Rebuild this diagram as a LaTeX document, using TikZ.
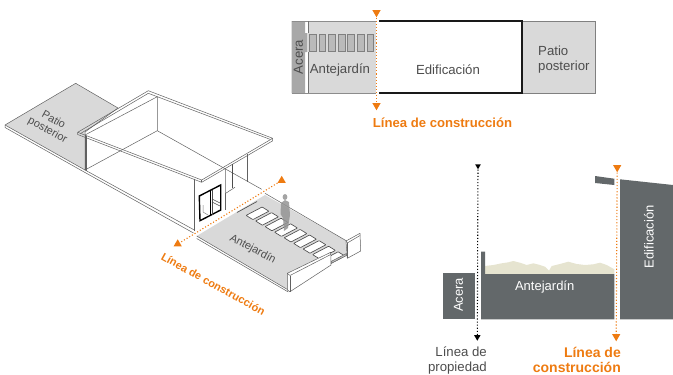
\documentclass[tikz,border=0pt]{standalone}
\usepackage{fontspec}
\setmainfont{Liberation Sans}
\usetikzlibrary{shapes.geometric}
\usetikzlibrary{math}
\definecolor{naranja}{HTML}{EE7B11}
\definecolor{gris}{HTML}{63686A}
\definecolor{grisClaro}{HTML}{D9D9D9}
\definecolor{grisMedio}{HTML}{A8A8A8}
\definecolor{pasto}{HTML}{E6E4D0}
\definecolor{texto}{HTML}{4D4D4D}
\tikzset{
  linea/.style={draw=black!62, line width=0.5pt, line join=round},
  suelo/.style={linea, fill=grisClaro},
  baldosa/.style={draw=black!70, line width=0.65pt, fill=white, line join=round},
  adoquin/.style={draw=black!50, line width=0.5pt, fill=black!27},
  lindero/.style={line width=1.1pt, dotted},
  triUp/.style={regular polygon, regular polygon sides=3, inner sep=0pt, minimum size=9.5pt},
  triDown/.style={triUp, shape border rotate=180},
  rotulo/.style={text=texto, font=\fontsize{13.2}{15}\selectfont, inner sep=0pt, align=left},
  rotuloB/.style={text=white, font=\fontsize{13}{15}\selectfont, inner sep=0pt},
  naranjaB/.style={text=naranja, font=\bfseries\fontsize{13.1}{15}\selectfont, inner sep=0pt}
}
\begin{document}
\begin{tikzpicture}[x=1pt,y=-1pt]
      \tikzmath{
        \yA = 21;
        \yB = 93;
        \ySec = 319.3;
        \xNar = 616.7;
        \xNeg = 478;
      }
      \useasboundingbox (0,0) rectangle (673,375);

      % isometrica
      \path[suelo] (75.7,83.3) -- (5,125) -- (85,170) -- (85,132) -- (118,108) -- cycle;
      \draw[linea] (5,125) -- (5,127.5) -- (85,172.5) -- (193.5,233);
      \draw[linea] (85,170) -- (194.3,230);
      \draw[linea] (85,135) -- (85,170);
      \draw[linea] (86.5,136) -- (86.5,171);

      \draw[linea] (85,135) -- (157.3,96.7) -- (157.3,130.7) -- (85,170);
      \draw[linea] (157.3,130.7) -- (261.7,189.3);
      \draw[linea] (77.7,132.3) -- (148.3,90.7) -- (272.7,138.3) -- (201.7,180) -- cycle;
      \draw[linea] (77.7,132.3) -- (77.7,134.5) -- (201.7,182.3) -- (272.7,140.8) -- (272.7,138.3);
      \draw[linea] (148.3,93.3) -- (80.5,133.5);
      \draw[linea] (148.3,93.3) -- (270,139.3);
      \draw[linea] (201.7,180) -- (201.7,182.3);

      \draw[linea] (194.3,178.5) -- (194.3,231);
      \draw[linea] (225.7,168.3) -- (225.7,193.3) -- (235,187.3);
      \draw[linea] (225.7,193.3) -- (225.7,210);
      \draw[linea] (247.3,154) -- (247.3,181.7);
      \draw[draw=texto, line width=1.2pt] (232.8,163.5) -- (232.8,188);

      \draw[black, line width=1.4pt, line join=miter] (199.3,196) -- (220.7,185) -- (220.7,210) -- (200,220.7) -- cycle;
      \draw[black, line width=0.9pt] (210,190.5) -- (210,215.5);
      \draw[texto, line width=0.5pt] (212,189.5) -- (212,214.5);
      \draw[texto, line width=0.5pt] (212,202) -- (220,206);
      \draw[texto, line width=0.5pt] (212,199) -- (220,203);
      \draw[black!50, line width=0.5pt] (203,205) -- (203,212) -- (208,215);

      \path[fill=grisClaro] (196.7,236) -- (265,195) -- (346.7,241) -- (346.7,255) -- (331,262) -- (288.3,290) -- cycle;
      \draw[linea] (265,193.3) -- (346.7,241);
      \draw[linea] (196.7,236) -- (288.3,290);
      \draw[linea] (196.7,238.5) -- (288.3,292);
      \draw[baldosa] (237,212.5) -- (257,201.5);
      \foreach \i in {1,...,9} {
        \tikzmath{ \cx = 248 + 9.5*\i; \cy = 207.7 + 5.6*\i; }
        \draw[baldosa, rounded corners=0.5pt] (\cx-11.4,\cy+2.1) -- (\cx+4.6,\cy-6.3) -- (\cx+11.4,\cy-2.1) -- (\cx-4.6,\cy+6.3) -- cycle;
      }
      \draw[linea, fill=black!25] (331,261.5) -- (346.5,253.5) -- (346.5,255.5) -- (331,263.5) -- cycle;

      \fill[black!42, opacity=0.85] (285,197) circle [x radius=2.4, y radius=3];
      \fill[black!42, opacity=0.85] (281,203) -- (285,200) -- (289,202) -- (290,215) -- (288,228) -- (284,231) -- (283,218) -- (280.5,214) -- cycle;

      \draw[linea, fill=white] (287.3,273.3) -- (330.7,252.3) -- (331,265) -- (290,291.7) -- (287.3,290) -- cycle;
      \draw[linea] (287.3,273.3) -- (290,275.5) -- (330.7,254.5);
      \draw[linea] (290,275.5) -- (290,291.7);
      \draw[linea, fill=white] (346,241) -- (360,233.3) -- (360.7,251) -- (347.3,258.3) -- cycle;
      \draw[linea] (346,241) -- (347.3,243) -- (360,235.5);
      \draw[linea] (347.3,243) -- (347.3,258.3);

      \node[triUp, fill=naranja] (isoA) at (281.7,180.5) {};
      \node[triUp, fill=naranja] (isoB) at (177.7,244) {};
      \draw[naranja, lindero] (isoA) -- (isoB);

      \node[rotulo, rotate=-29, align=center, font=\fontsize{11}{12}\selectfont] (isoPatio) at (50.5,125.5) {Patio\\posterior};
      \node[rotulo, rotate=-28, font=\fontsize{11}{12}\selectfont] (isoAnte) at (252.7,249.3) {Antejardín};
      \node[naranjaB, rotate=-29, font=\bfseries\fontsize{11}{12}\selectfont] (isoLinea) at (213.3,284) {Línea de construcción};

      % planta
      \fill[grisMedio] (291.5,\yA) -- (305,\yA) -- (305,33) -- (307,33) -- (307,52) -- (305,52) -- (305,\yB) -- (291.5,\yB) -- cycle;
      \fill[grisClaro] (308,\yA) rectangle (376,\yB);
      \fill[grisClaro] (307,33) rectangle (309,52);
      \draw[black!45, line width=0.5pt] (291.5,\yA) -- (376,\yA);
      \draw[black!45, line width=0.5pt] (291.5,\yB) -- (376,\yB);
      \draw[black!55, line width=0.5pt] (308,\yA) -- (308,33);
      \draw[black!55, line width=0.5pt] (308,52) -- (308,\yB);
      \foreach \i in {0,...,6} {
        \draw[adoquin] (309.2+9.6*\i,34.5) rectangle ++(6.8,17);
      }
      \draw[draw=black!50, fill=grisClaro, line width=0.6pt] (522,\yA) rectangle (595.5,\yB);
      \draw[black!90, line width=1.3pt] (379,\yA) -- (522,\yA) -- (522,\yB) -- (379,\yB);

      \node[triDown, fill=naranja] (planA) at (376.5,12.5) {};
      \node[triDown, fill=naranja] (planB) at (376.5,105.5) {};
      \draw[naranja, lindero] (planA) -- (planB);

      \node[rotulo, rotate=90] (planAcera) at (298.5,57) {Acera};
      \node[rotulo] (planAnte) at (340,70) {Antejardín};
      \node[rotulo] (planEdif) at (448,70) {Edificación};
      \node[rotulo, anchor=west, text width=60pt] (planPatio) at (538,59.5) {Patio\\posterior};
      \node[naranjaB] (planLinea) at (442.5,123) {Línea de construcción};

      % corte
      \fill[gris] (443.3,272.7) rectangle (475,\ySec);
      \fill[pasto] (485,274) -- (485,266) -- (493.3,265) -- (501.7,263.3) -- (508.3,262.3) -- (513.3,261)
        -- (520,262.7) -- (526.7,265) -- (533.3,263.3) -- (540,265) -- (545,266.7) -- (549,270.7)
        -- (551.7,266) -- (560,264) -- (568.3,261.7) -- (576.7,264) -- (585,265) -- (593.3,264.3)
        -- (600,262.7) -- (606.7,265) -- (614.3,269.3) -- (614.3,274) -- cycle;
      \fill[gris] (481,251.7) -- (485,251.7) -- (485,274) -- (614.3,274) -- (614.3,\ySec) -- (481,\ySec) -- cycle;
      \fill[gris] (595,176) -- (614.3,178.7) -- (614.3,185) -- (595,183) -- cycle;
      \fill[gris] (620,179.3) -- (673,185) -- (673,\ySec) -- (620,\ySec) -- cycle;

      \node[triDown, fill=black, minimum size=6.5pt] (negA) at (\xNeg,166) {};
      \node[triDown, fill=black, minimum size=7.5pt] (negB) at (\xNeg-0.7,337) {};
      \draw[black, lindero] (negA) -- (negB);
      \node[triDown, fill=naranja] (narA) at (\xNar+0.5,167.5) {};
      \node[triDown, fill=naranja] (narB) at (\xNar-0.5,336.5) {};
      \draw[naranja, lindero] (narA) -- (narB);

      \node[rotuloB, rotate=90] (corAcera) at (458.5,295) {Acera};
      \node[rotuloB] (corAnte) at (544.7,287) {Antejardín};
      \node[rotuloB, rotate=90] (corEdif) at (649,236.7) {Edificación};
      \node[rotulo, anchor=east, align=right] (corProp) at (487,360.5) {Línea de\\propiedad};
      \node[naranjaB, anchor=east, align=right, font=\bfseries\fontsize{14}{15}\selectfont] (corLinea) at (621,359.5) {Línea de\\construcción};
    \end{tikzpicture}
\end{document}
